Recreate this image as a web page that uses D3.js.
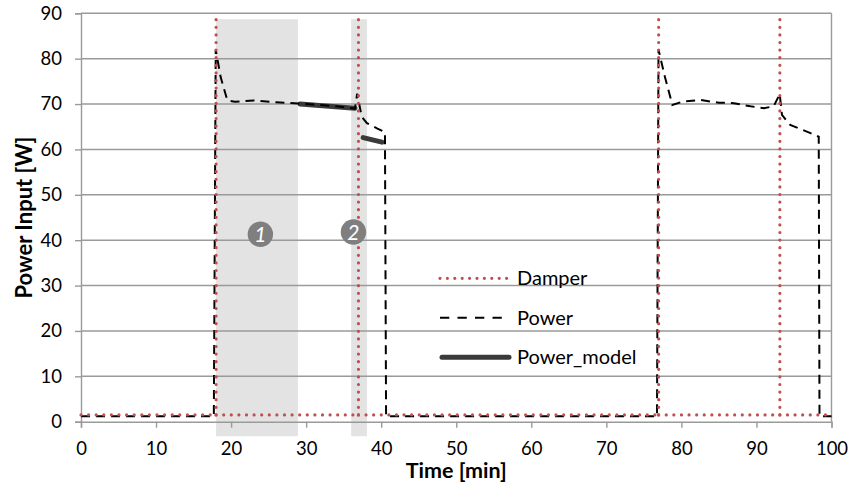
<!DOCTYPE html>
<html>
<head>
<meta charset="utf-8">
<script src="https://cdn.jsdelivr.net/npm/d3@7"></script>
<style>
  body { margin: 0; background: #fff; }
  text { font-family: Lato, "Open Sans", sans-serif; }
</style>
</head>
<body>
<div id="chart"></div>
<script>
// time [min], value
var powerData = [
  [0, 1.2], [17.7, 1.2], [17.95, 82], [18.6, 76], [19.5, 70.8], [20.5, 70.5],
  [23, 70.8], [26, 70.4], [29, 70.1], [32, 69.8], [34, 69.5], [36.5, 69.0],
  [36.8, 72.3], [37.4, 67.2], [38.1, 65.8], [39.5, 64.6], [40.5, 63.8],
  [40.65, 1.2], [76.75, 1.2], [76.95, 82], [77.8, 76], [78.8, 69.8],
  [80.3, 70.6], [82.5, 70.9], [85, 70.3], [87, 70.2], [89.2, 69.5],
  [91, 69.1], [92.3, 69.5], [93.1, 72.2], [93.4, 67.6], [94.5, 65.4],
  [97.2, 63.6], [98.3, 62.8], [98.4, 1.2], [100, 1.2]
];

var damperData = [
  [0, 1.5], [18.0, 1.5], [18.0, 90], [18.0, 1.5], [36.97, 1.5], [36.97, 90],
  [36.97, 1.5], [76.97, 1.5], [76.97, 90], [76.97, 1.5], [93.12, 1.5],
  [93.12, 90], [93.12, 1.5], [100, 1.5]
];

// two fitted pieces, NaN marks the gap
var powerModelData = [
  [29.2, 70.0], [36.5, 69.1], [NaN, NaN], [37.6, 62.6], [40.1, 61.6]
];

var shadedRanges = [[18.0, 28.9], [36.0, 38.1]];
var shadeTop = 88.7, shadeBottom = -3.2;

var markers = [
  { label: "1", t: 23.9, v: 41.3 },
  { label: "2", t: 36.3, v: 41.8 }
];

var xTicks = [0, 10, 20, 30, 40, 50, 60, 70, 80, 90, 100];
var yTicks = [0, 10, 20, 30, 40, 50, 60, 70, 80, 90];

var legendItems = ["Damper", "Power", "Power_model"];

var margin = { top: 13.3, right: 20.5, bottom: 64.3, left: 81 },
  width = 852 - margin.left - margin.right,
  height = 486 - margin.top - margin.bottom;

var x = d3.scaleLinear().domain([0, 100]).range([0, width]);
var y = d3.scaleLinear().domain([0, 90]).range([height, 0]);

var svg = d3
  .select("#chart")
  .append("svg")
  .attr("width", 852)
  .attr("height", 486)
  .append("g")
  .attr("transform", "translate(" + margin.left + "," + margin.top + ")");

// shaded phases
svg
  .selectAll(".shade")
  .data(shadedRanges)
  .enter()
  .append("rect")
  .attr("class", "shade")
  .attr("fill", "#e3e3e3")
  .attr("x", (d) => x(d[0]))
  .attr("width", (d) => x(d[1]) - x(d[0]))
  .attr("y", y(shadeTop))
  .attr("height", y(shadeBottom) - y(shadeTop));

// gridlines
svg
  .append("g")
  .selectAll("line")
  .data(yTicks.filter((d) => d > 0))
  .enter()
  .append("line")
  .attr("x1", 0)
  .attr("x2", width)
  .attr("y1", (d) => y(d))
  .attr("y2", (d) => y(d))
  .attr("stroke", "#9a9a9a")
  .attr("stroke-width", 1.4);

// right border
svg
  .append("line")
  .attr("x1", width)
  .attr("x2", width)
  .attr("y1", 0)
  .attr("y2", height)
  .attr("stroke", "#9a9a9a")
  .attr("stroke-width", 1.4);

var yAxis = svg
  .append("g")
  .call(d3.axisLeft(y).tickValues(yTicks).tickSize(6).tickPadding(13));

var xAxis = svg
  .append("g")
  .attr("transform", "translate(0," + height + ")")
  .call(d3.axisBottom(x).tickValues(xTicks).tickSize(6).tickPadding(14));

[yAxis, xAxis].forEach((a) => {
  a.select(".domain").attr("stroke", "#9a9a9a").attr("stroke-width", 1.4);
  a.selectAll(".tick line").attr("stroke", "#9a9a9a").attr("stroke-width", 1.4);
  a.selectAll("text")
    .attr("fill", "#000")
    .style("font-size", "18.5px")
    .style("font-family", "Lato, sans-serif");
});

var line = d3
  .line()
  .defined((d) => !isNaN(d[0]))
  .x((d) => x(d[0]))
  .y((d) => y(d[1]));

svg
  .append("path")
  .datum(powerModelData)
  .attr("fill", "none")
  .attr("stroke", "#3a3a3a")
  .attr("stroke-width", 5)
  .attr("stroke-linecap", "round")
  .attr("d", line);

svg
  .append("path")
  .datum(powerData)
  .attr("fill", "none")
  .attr("stroke", "#000")
  .attr("stroke-width", 2)
  .attr("stroke-dasharray", "9,6")
  .attr("d", line);

// damper: one path per segment, the down legs retrace the up legs so skip repeats
var damperSegs = [];
var seen = {};
for (var i = 1; i < damperData.length; i++) {
  var a = damperData[i - 1], b = damperData[i];
  var key = [a, b].map((p) => p.join(",")).sort().join("|");
  if (seen[key]) continue;
  seen[key] = true;
  damperSegs.push([a, b]);
}

svg
  .selectAll(".damper")
  .data(damperSegs)
  .enter()
  .append("path")
  .attr("class", "damper")
  .attr("fill", "none")
  .attr("stroke", "#c0504d")
  .attr("stroke-width", 3.2)
  .attr("stroke-linecap", "round")
  .attr("stroke-dasharray", "0,7.6")
  .attr("d", line);

// numbered markers
var mk = svg
  .selectAll(".marker")
  .data(markers)
  .enter()
  .append("g")
  .attr("class", "marker")
  .attr("transform", (d) => "translate(" + x(d.t) + "," + y(d.v) + ")");

mk.append("circle").attr("r", 12.7).attr("fill", "#7f7f7f");

mk.append("text")
  .attr("text-anchor", "middle")
  .attr("dy", "0.36em")
  .attr("fill", "#fff")
  .style("font-size", "21px")
  .style("font-style", "italic")
  .text((d) => d.label);

// legend
var legend = svg
  .append("g")
  .attr("transform", "translate(" + (440 - margin.left) + "," + (278.3 - margin.top) + ")");

legendItems.forEach((name, i) => {
  var g = legend.append("g").attr("transform", "translate(0," + i * 39.5 + ")");
  var l = g.append("line").attr("x1", 0).attr("y1", 0).attr("y2", 0);
  if (name == "Damper") {
    l.attr("x2", 67)
      .attr("stroke", "#c0504d")
      .attr("stroke-width", 3.2)
      .attr("stroke-linecap", "round")
      .attr("stroke-dasharray", "0,7.4");
  } else if (name == "Power") {
    l.attr("x2", 64)
      .attr("stroke", "#000")
      .attr("stroke-width", 2)
      .attr("stroke-dasharray", "9.3,8.2");
  } else {
    l.attr("x1", 2)
      .attr("x2", 69)
      .attr("stroke", "#3a3a3a")
      .attr("stroke-width", 5)
      .attr("stroke-linecap", "round");
  }
  g.append("text")
    .attr("x", 77)
    .attr("dy", "0.35em")
    .attr("fill", "#000")
    .style("font-size", "20px")
    .text(name);
});

// axis titles
svg
  .append("text")
  .attr("transform", "rotate(-90)")
  .attr("x", -height / 2)
  .attr("y", 24 - margin.left)
  .attr("dy", "0.35em")
  .attr("text-anchor", "middle")
  .style("font-size", "22px")
  .style("font-weight", "bold")
  .text("Power Input [W]");

svg
  .append("text")
  .attr("x", width / 2)
  .attr("y", 478.5 - margin.top)
  .attr("text-anchor", "middle")
  .style("font-size", "21.5px")
  .style("font-weight", "bold")
  .text("Time [min]");
</script>
</body>
</html>
